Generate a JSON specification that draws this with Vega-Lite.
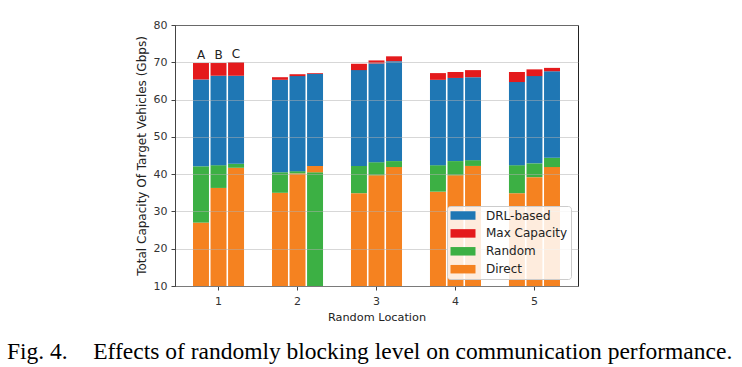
{
  "$schema": "https://vega.github.io/schema/vega-lite/v6.json",
  "width": 403,
  "height": 261,
  "autosize": {"type": "none"},
  "padding": {"left": 175, "top": 25, "right": 164, "bottom": 81},
  "background": "white",
  "config": {
    "view": {"stroke": "#222222", "strokeWidth": 1},
    "font": "DejaVu Sans",
    "axis": {
      "labelFont": "DejaVu Sans",
      "titleFont": "DejaVu Sans",
      "labelFontSize": 11,
      "titleFontSize": 11.3,
      "titleFontWeight": "normal",
      "labelColor": "#333333",
      "titleColor": "#222222",
      "domainColor": "#444444",
      "tickColor": "#444444",
      "tickSize": 4
    }
  },
  "title": {
    "text": "Fig. 4.\u2003\u200aEffects of randomly blocking level on communication performance.",
    "orient": "bottom",
    "anchor": "start",
    "frame": "group",
    "dx": -168,
    "offset": 18,
    "font": "Liberation Serif",
    "fontSize": 23.5,
    "fontWeight": "normal",
    "color": "black"
  },
  "data": {
    "values": [
      {"loc": 1, "bar": "A", "series": "Direct", "lo": 10, "hi": 27.0},
      {"loc": 1, "bar": "A", "series": "Random", "lo": 27.0, "hi": 42.1},
      {"loc": 1, "bar": "A", "series": "DRL-based", "lo": 42.1, "hi": 65.4},
      {"loc": 1, "bar": "A", "series": "Max Capacity", "lo": 65.4, "hi": 69.8},
      {"loc": 1, "bar": "B", "series": "Direct", "lo": 10, "hi": 36.3},
      {"loc": 1, "bar": "B", "series": "Random", "lo": 36.3, "hi": 42.4},
      {"loc": 1, "bar": "B", "series": "DRL-based", "lo": 42.4, "hi": 66.4},
      {"loc": 1, "bar": "B", "series": "Max Capacity", "lo": 66.4, "hi": 69.8},
      {"loc": 1, "bar": "C", "series": "Direct", "lo": 10, "hi": 41.7},
      {"loc": 1, "bar": "C", "series": "Random", "lo": 41.7, "hi": 42.8},
      {"loc": 1, "bar": "C", "series": "DRL-based", "lo": 42.8, "hi": 66.4},
      {"loc": 1, "bar": "C", "series": "Max Capacity", "lo": 66.4, "hi": 70.0},
      {"loc": 2, "bar": "A", "series": "Direct", "lo": 10, "hi": 35.0},
      {"loc": 2, "bar": "A", "series": "Random", "lo": 35.0, "hi": 40.5},
      {"loc": 2, "bar": "A", "series": "DRL-based", "lo": 40.5, "hi": 65.3},
      {"loc": 2, "bar": "A", "series": "Max Capacity", "lo": 65.3, "hi": 66.0},
      {"loc": 2, "bar": "B", "series": "Direct", "lo": 10, "hi": 40.2},
      {"loc": 2, "bar": "B", "series": "Random", "lo": 40.2, "hi": 40.8},
      {"loc": 2, "bar": "B", "series": "DRL-based", "lo": 40.8, "hi": 66.3},
      {"loc": 2, "bar": "B", "series": "Max Capacity", "lo": 66.3, "hi": 66.8},
      {"loc": 2, "bar": "C", "series": "Random", "lo": 10, "hi": 40.5},
      {"loc": 2, "bar": "C", "series": "Direct", "lo": 40.5, "hi": 42.2},
      {"loc": 2, "bar": "C", "series": "DRL-based", "lo": 42.2, "hi": 66.9},
      {"loc": 2, "bar": "C", "series": "Max Capacity", "lo": 66.9, "hi": 67.1},
      {"loc": 3, "bar": "A", "series": "Direct", "lo": 10, "hi": 34.9},
      {"loc": 3, "bar": "A", "series": "Random", "lo": 34.9, "hi": 42.2},
      {"loc": 3, "bar": "A", "series": "DRL-based", "lo": 42.2, "hi": 67.9},
      {"loc": 3, "bar": "A", "series": "Max Capacity", "lo": 67.9, "hi": 69.6},
      {"loc": 3, "bar": "B", "series": "Direct", "lo": 10, "hi": 39.7},
      {"loc": 3, "bar": "B", "series": "Random", "lo": 39.7, "hi": 43.2},
      {"loc": 3, "bar": "B", "series": "DRL-based", "lo": 43.2, "hi": 69.7},
      {"loc": 3, "bar": "B", "series": "Max Capacity", "lo": 69.7, "hi": 70.5},
      {"loc": 3, "bar": "C", "series": "Direct", "lo": 10, "hi": 41.9},
      {"loc": 3, "bar": "C", "series": "Random", "lo": 41.9, "hi": 43.5},
      {"loc": 3, "bar": "C", "series": "DRL-based", "lo": 43.5, "hi": 70.3},
      {"loc": 3, "bar": "C", "series": "Max Capacity", "lo": 70.3, "hi": 71.6},
      {"loc": 4, "bar": "A", "series": "Direct", "lo": 10, "hi": 35.3},
      {"loc": 4, "bar": "A", "series": "Random", "lo": 35.3, "hi": 42.4},
      {"loc": 4, "bar": "A", "series": "DRL-based", "lo": 42.4, "hi": 65.3},
      {"loc": 4, "bar": "A", "series": "Max Capacity", "lo": 65.3, "hi": 67.1},
      {"loc": 4, "bar": "B", "series": "Direct", "lo": 10, "hi": 39.7},
      {"loc": 4, "bar": "B", "series": "Random", "lo": 39.7, "hi": 43.5},
      {"loc": 4, "bar": "B", "series": "DRL-based", "lo": 43.5, "hi": 65.8},
      {"loc": 4, "bar": "B", "series": "Max Capacity", "lo": 65.8, "hi": 67.4},
      {"loc": 4, "bar": "C", "series": "Direct", "lo": 10, "hi": 42.2},
      {"loc": 4, "bar": "C", "series": "Random", "lo": 42.2, "hi": 43.75},
      {"loc": 4, "bar": "C", "series": "DRL-based", "lo": 43.75, "hi": 66.0},
      {"loc": 4, "bar": "C", "series": "Max Capacity", "lo": 66.0, "hi": 67.9},
      {"loc": 5, "bar": "A", "series": "Direct", "lo": 10, "hi": 34.9},
      {"loc": 5, "bar": "A", "series": "Random", "lo": 34.9, "hi": 42.4},
      {"loc": 5, "bar": "A", "series": "DRL-based", "lo": 42.4, "hi": 64.7},
      {"loc": 5, "bar": "A", "series": "Max Capacity", "lo": 64.7, "hi": 67.4},
      {"loc": 5, "bar": "B", "series": "Direct", "lo": 10, "hi": 39.2},
      {"loc": 5, "bar": "B", "series": "Random", "lo": 39.2, "hi": 42.9},
      {"loc": 5, "bar": "B", "series": "DRL-based", "lo": 42.9, "hi": 66.3},
      {"loc": 5, "bar": "B", "series": "Max Capacity", "lo": 66.3, "hi": 68.1},
      {"loc": 5, "bar": "C", "series": "Direct", "lo": 10, "hi": 41.9},
      {"loc": 5, "bar": "C", "series": "Random", "lo": 41.9, "hi": 44.4},
      {"loc": 5, "bar": "C", "series": "DRL-based", "lo": 44.4, "hi": 67.6},
      {"loc": 5, "bar": "C", "series": "Max Capacity", "lo": 67.6, "hi": 68.5}
    ]
  },
  "encoding": {
    "x": {
      "field": "loc",
      "type": "ordinal",
      "scale": {"paddingInner": 0.354, "paddingOuter": 0.228},
      "axis": {"title": "Random Location", "labelAngle": 0, "grid": false, "labelPadding": 5, "titlePadding": 5}
    },
    "xOffset": {"field": "bar", "type": "nominal", "scale": {"paddingInner": 0.09, "paddingOuter": 0}},
    "y": {
      "field": "hi",
      "type": "quantitative",
      "scale": {"domain": [10, 80], "zero": false, "nice": false},
      "axis": {
        "title": "Total Capacity Of Target Vehicles (Gbps)",
        "titleFontSize": 12,
        "values": [10, 20, 30, 40, 50, 60, 70, 80],
        "labelOverlap": false,
        "grid": true,
        "gridColor": "#b0b0b0",
        "gridOpacity": 0.5,
        "zindex": 1,
        "labelPadding": 4,
        "titlePadding": 5
      }
    }
  },
  "layer": [
    {
      "mark": {"type": "bar"},
      "encoding": {
        "y2": {"field": "lo"},
        "color": {
          "field": "series",
          "type": "nominal",
          "scale": {
            "domain": ["DRL-based", "Max Capacity", "Random", "Direct"],
            "range": ["#1f77b4", "#e41a1c", "#3cb044", "#f58220"]
          },
          "legend": {
            "title": null,
            "orient": "none",
            "legendX": 272,
            "legendY": 181,
            "symbolType": "M-2.083,-0.708H2.083V0.708H-2.083Z",
            "symbolSize": 144,
            "symbolOffset": 6.5,
            "symbolStrokeWidth": 0,
            "symbolOpacity": 1,
            "labelFont": "DejaVu Sans",
            "labelFontSize": 12,
            "labelColor": "#222222",
            "labelOffset": 17,
            "rowPadding": 5.9,
            "padding": 3.5,
            "fillColor": "rgba(255,255,255,0.85)",
            "strokeColor": "#cccccc",
            "cornerRadius": 3,
            "zindex": 2
          }
        }
      }
    },
    {
      "transform": [{"filter": "datum.loc == 1 && datum.series == 'Max Capacity'"}],
      "mark": {"type": "text", "baseline": "bottom", "dy": -1.5, "fontSize": 12, "font": "DejaVu Sans", "color": "#222222"},
      "encoding": {
        "text": {"field": "bar"}
      }
    }
  ]
}
